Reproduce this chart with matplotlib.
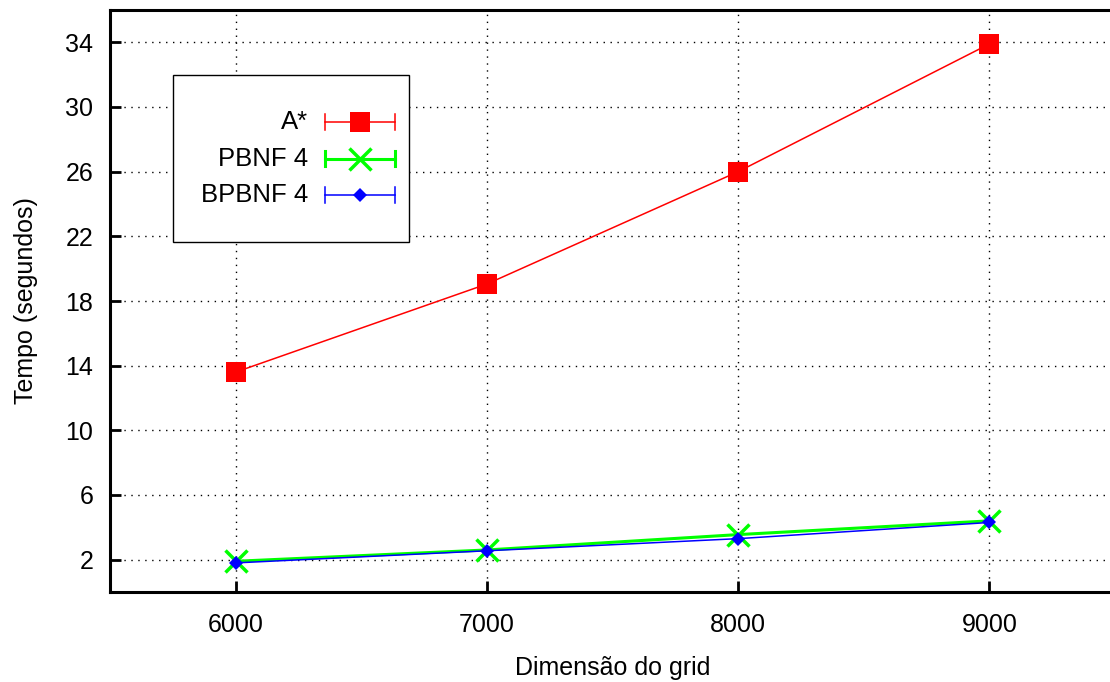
import matplotlib
matplotlib.use("Agg")
import matplotlib.pyplot as plt
from matplotlib.lines import Line2D
from matplotlib.patches import Rectangle

plt.rcParams['font.family'] = ['Liberation Sans', 'DejaVu Sans']

# tempos medidos por tamanho de grid
grid = [6000, 7000, 8000, 9000]
astar = [13.6, 19.05, 26.0, 33.9]
pbnf4 = [1.9, 2.6, 3.55, 4.4]
bpbnf4 = [1.8, 2.55, 3.3, 4.3]

yticks = [2, 6, 10, 14, 18, 22, 26, 30, 34]

series = [
    ("A*", astar, dict(color='#ff0000', lw=1.1, marker='s', ms=15, mew=0)),
    ("PBNF 4", pbnf4, dict(color='#00ff00', lw=2.2, marker='x', ms=16, mew=2.5)),
    ("BPBNF 4", bpbnf4, dict(color='#0000ff', lw=1.1, marker='D', ms=7, mew=0)),
]

fig = plt.figure(figsize=(11.1, 6.82), dpi=100)
ax = fig.add_axes([110 / 1110, 1 - 592 / 682, 1005 / 1110, 582 / 682])

for name, vals, st in series:
    ax.plot(grid, vals, **st, zorder=3)

ax.set_xlim(5500, 9500)
ax.set_ylim(0, 36)
ax.set_xticks(grid)
ax.set_yticks(yticks)
ax.grid(True, color='black', linestyle=(0, (1, 4)), linewidth=1.0)
ax.tick_params(direction='in', length=8, width=2, labelsize=18,
               top=False, right=False)
ax.tick_params(axis='y', pad=12)
ax.tick_params(axis='x', pad=15)
for s in ax.spines.values():
    s.set_linewidth(2.2)

ax.set_xlabel("Dimensão do grid", fontsize=18, labelpad=14)
ax.set_ylabel("Tempo (segundos)", fontsize=18, labelpad=20)

# legenda estilo gnuplot
bx0, bx1 = (173 - 110) / 1005, (409 - 110) / 1005
by0, by1 = (592 - 242) / 582, (592 - 75) / 582
ax.add_patch(Rectangle((bx0, by0), bx1 - bx0, by1 - by0, transform=ax.transAxes,
                       fill=True, facecolor='white', edgecolor='black',
                       lw=1.0, zorder=5))
lx0, lx1, lxm = (325 - 110) / 1005, (395 - 110) / 1005, (360 - 110) / 1005
tx = (308 - 110) / 1005
cap = 8 / 582
for i, (name, vals, st) in enumerate(series):
    yy = (592 - (122 + 36.5 * i)) / 582
    ax.text(tx, yy, name, transform=ax.transAxes, ha='right', va='center',
            fontsize=18.5, zorder=6)
    kw = dict(transform=ax.transAxes, color=st['color'], lw=st['lw'], zorder=6)
    ax.add_line(Line2D([lx0, lx1], [yy, yy], **kw))
    ax.add_line(Line2D([lx0, lx0], [yy - cap, yy + cap], **kw))
    ax.add_line(Line2D([lx1, lx1], [yy - cap, yy + cap], **kw))
    ax.add_line(Line2D([lxm], [yy], transform=ax.transAxes, color=st['color'],
                       marker=st['marker'], ms=st['ms'], mew=st['mew'],
                       linestyle='none', zorder=7))

fig.savefig("out.png", dpi=100)
